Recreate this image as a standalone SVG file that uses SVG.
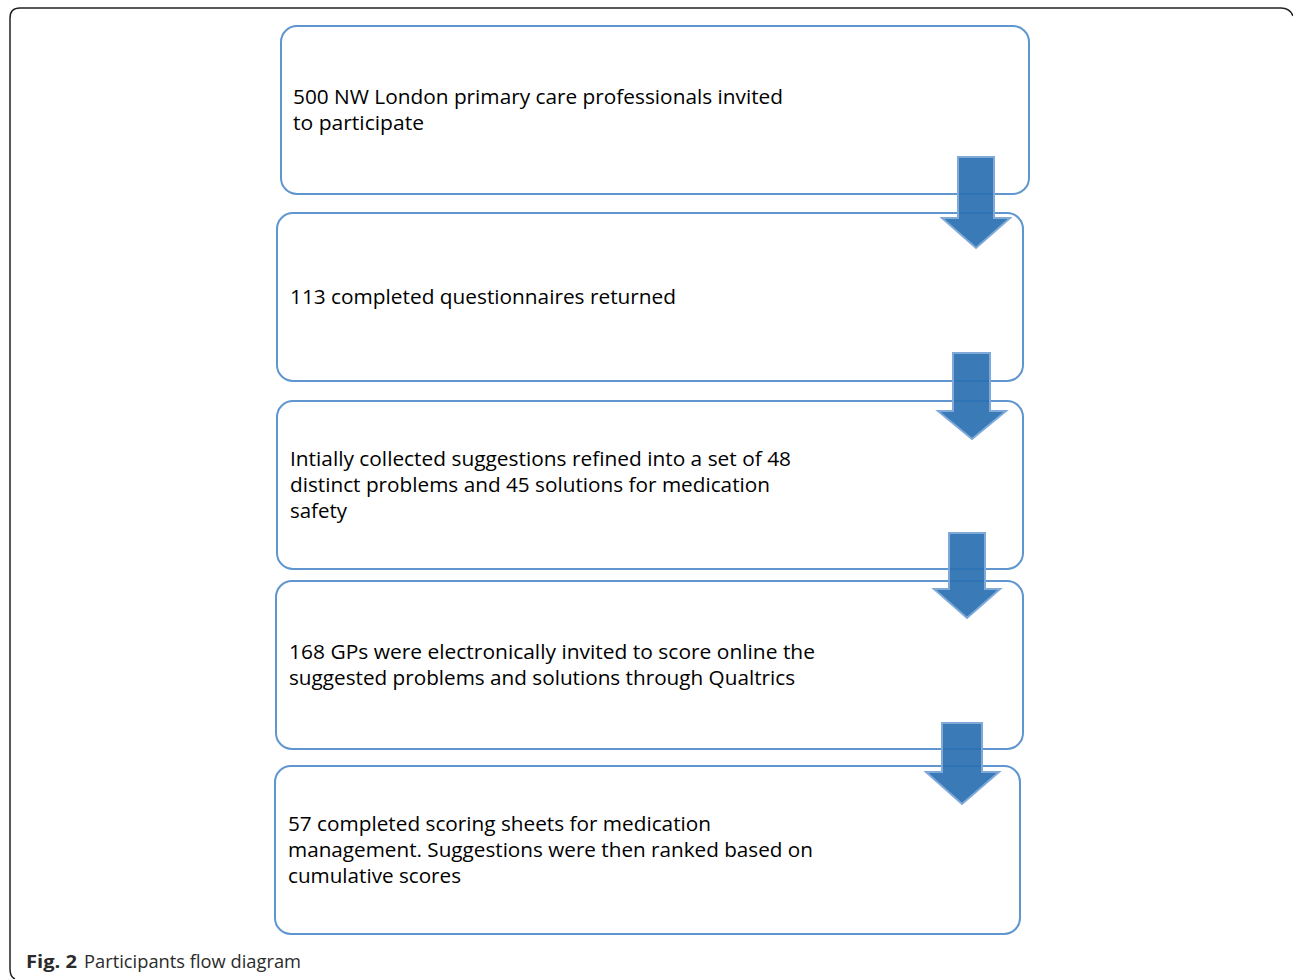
<svg xmlns="http://www.w3.org/2000/svg" width="1293" height="979" viewBox="0 0 1293 979">
<style>
.box{fill:#ffffff;stroke:#5f96cf;stroke-width:2}
.arr{fill:#2a70b2;fill-opacity:0.93;stroke:#7fa9d9;stroke-width:2;stroke-linejoin:miter}
.t{font-family:"Open Sans","Noto Sans","Liberation Sans",sans-serif;font-size:20px;fill:#000000}
.cap{font-family:"Open Sans","Noto Sans","Liberation Sans",sans-serif;font-size:18px;fill:#2b2b2b}
</style>
<rect x="0" y="0" width="1293" height="979" fill="#ffffff"/>
<path d="M15,979 Q10,977 10,969 L10,18 Q10,8 20,8 L1281,8 Q1290,8 1293,16" fill="none" stroke="#222222" stroke-width="1.5"/>
<g id="n1">
<rect class="box" x="281" y="26" width="748" height="168" rx="16"/>
<text class="t" x="293" y="104" textLength="490" lengthAdjust="spacingAndGlyphs">500 NW London primary care professionals invited</text>
<text class="t" x="293" y="130" textLength="131" lengthAdjust="spacingAndGlyphs">to participate</text>
</g>
<g id="n2">
<rect class="box" x="277" y="213" width="746" height="168" rx="16"/>
<text class="t" x="290" y="304" textLength="386" lengthAdjust="spacingAndGlyphs">113 completed questionnaires returned</text>
</g>
<g id="n3">
<rect class="box" x="277" y="401" width="746" height="168" rx="16"/>
<text class="t" x="290" y="466" textLength="501" lengthAdjust="spacingAndGlyphs">Intially collected suggestions refined into a set of 48</text>
<text class="t" x="290" y="492" textLength="480" lengthAdjust="spacingAndGlyphs">distinct problems and 45 solutions for medication</text>
<text class="t" x="290" y="518" textLength="57" lengthAdjust="spacingAndGlyphs">safety</text>
</g>
<g id="n4">
<rect class="box" x="276" y="581" width="747" height="168" rx="16"/>
<text class="t" x="289" y="659" textLength="526" lengthAdjust="spacingAndGlyphs">168 GPs were electronically invited to score online the</text>
<text class="t" x="289" y="685" textLength="506" lengthAdjust="spacingAndGlyphs">suggested problems and solutions through Qualtrics</text>
</g>
<g id="n5">
<rect class="box" x="275" y="766" width="745" height="168" rx="16"/>
<text class="t" x="288" y="831" textLength="423" lengthAdjust="spacingAndGlyphs">57 completed scoring sheets for medication</text>
<text class="t" x="288" y="857" textLength="525" lengthAdjust="spacingAndGlyphs">management. Suggestions were then ranked based on</text>
<text class="t" x="288" y="883" textLength="173" lengthAdjust="spacingAndGlyphs">cumulative scores</text>
</g>
<g id="connectors">
<polygon class="arr" points="958,157 994,157 994,218 1010,218 976,248 942,218 958,218"/>
<polygon class="arr" points="953,353 990,353 990,411 1006,411 972,439 938,411 953,411"/>
<polygon class="arr" points="949,533 985,533 985,589 1000,589 967,618 934,589 949,589"/>
<polygon class="arr" points="942,723 982,723 982,772 999,772 962,804 926,772 942,772"/>
</g>
<g id="caption">
<text class="cap" x="26" y="968" font-weight="bold" textLength="51" lengthAdjust="spacingAndGlyphs">Fig. 2</text>
<text class="cap" x="84" y="968" textLength="217" lengthAdjust="spacingAndGlyphs">Participants flow diagram</text>
</g>
</svg>
